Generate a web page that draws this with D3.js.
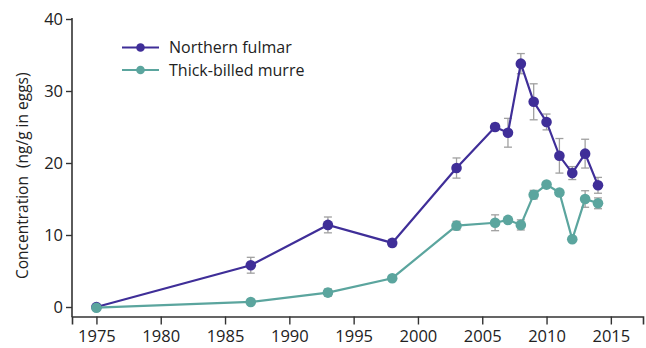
<!DOCTYPE html>
<html>
<head>
<meta charset="utf-8">
<script src="https://cdn.jsdelivr.net/npm/d3@7"></script>
<style>
  html, body { margin: 0; padding: 0; background: #fff; }
  svg { display: block; font-family: "Open Sans", "Noto Sans", sans-serif; }
</style>
</head>
<body>
<svg id="chart" width="646" height="348"></svg>
<script>
// Contaminant concentration in seabird eggs, by year
const years = [1975, 1987, 1993, 1998, 2003, 2006, 2007, 2008, 2009, 2010, 2011, 2012, 2013, 2014];
const fulmarValues = [0, 5.8, 11.4, 8.9, 19.3, 25.0, 24.2, 33.8, 28.5, 25.7, 21.0, 18.6, 21.3, 16.9];
const fulmarErrors = [0, 1.1, 1.1, 0.5, 1.4, 0.5, 2.0, 1.4, 2.5, 1.1, 2.4, 0.9, 2.0, 1.1];
const murreValues = [-0.1, 0.7, 2.0, 4.0, 11.3, 11.7, 12.1, 11.4, 15.6, 17.0, 15.9, 9.4, 15.0, 14.4];
const murreErrors = [0, 0.2, 0.5, 0.3, 0.6, 1.1, 0.3, 0.7, 0.6, 0.3, 0.3, 0.3, 1.15, 0.75];
const xTicks = [1975, 1980, 1985, 1990, 1995, 2000, 2005, 2010, 2015];
const yTicks = [0, 10, 20, 30, 40];

const seriesNames = ["Northern fulmar", "Thick-billed murre"];
const seriesColors = ["#3f2e98", "#5ba59e"];

const fontStack = '"Open Sans", "Noto Sans", sans-serif';

const svg = d3.select("#chart");

const x = d3.scaleLinear().domain([1973.1, 2017.5]).range([72, 643]);
const y = d3.scaleLinear().domain([0, 40]).range([307, 19]);
const axisY = 316.5;

const axisColor = "#333";

// x axis, ticks pointing down
const xAxis = svg.append("g")
  .attr("transform", `translate(0,${axisY})`)
  .call(d3.axisBottom(x).tickValues(xTicks).tickFormat(d3.format("d")).tickSize(8).tickPadding(6))
  .attr("font-family", fontStack).attr("font-size", 16.5);
xAxis.select(".domain").attr("stroke", axisColor).attr("stroke-width", 1.6);
xAxis.selectAll(".tick line").attr("stroke", axisColor).attr("stroke-width", 1.4);
xAxis.selectAll(".tick text").attr("fill", "#222");

// y axis with outward ticks, spine running down to the x axis
const yAxis = svg.append("g")
  .attr("transform", `translate(72,0)`)
  .call(d3.axisLeft(y).tickValues(yTicks).tickSize(6).tickPadding(3))
  .attr("font-family", fontStack).attr("font-size", 16.5);
yAxis.select(".domain").remove();
yAxis.selectAll(".tick line").attr("stroke", axisColor).attr("stroke-width", 1.4);
yAxis.selectAll(".tick text").attr("fill", "#222");
svg.append("line")
  .attr("x1", 72).attr("x2", 72)
  .attr("y1", y(40) - 1).attr("y2", axisY + 0.8)
  .attr("stroke", axisColor).attr("stroke-width", 1.6);

// y axis title
svg.append("text")
  .attr("transform", `translate(28,${(y(40) + axisY) / 2 + 8}) rotate(-90)`)
  .attr("text-anchor", "middle")
  .attr("fill", "#222")
  .style("font-size", "15.5px")
  .attr("xml:space", "preserve")
  .text("Concentration  (ng/g in eggs)");

const series = [
  { name: seriesNames[0], color: seriesColors[0], values: fulmarValues, errors: fulmarErrors },
  { name: seriesNames[1], color: seriesColors[1], values: murreValues, errors: murreErrors }
];

const line = d3.line().x(d => x(d.year)).y(d => y(d.value));

series.forEach(s => {
  const pts = years.map((yr, i) => ({ year: yr, value: s.values[i], err: s.errors[i] }));
  const g = svg.append("g");

  const eb = g.append("g").attr("stroke", "#a0a0a0").attr("stroke-width", 1.3).attr("fill", "none");
  pts.filter(d => d.err > 0).forEach(d => {
    const cx = x(d.year);
    eb.append("line").attr("x1", cx).attr("x2", cx).attr("y1", y(d.value - d.err)).attr("y2", y(d.value + d.err));
    eb.append("line").attr("x1", cx - 4).attr("x2", cx + 4).attr("y1", y(d.value + d.err)).attr("y2", y(d.value + d.err));
    eb.append("line").attr("x1", cx - 4).attr("x2", cx + 4).attr("y1", y(d.value - d.err)).attr("y2", y(d.value - d.err));
  });

  g.append("path").datum(pts)
    .attr("d", line)
    .attr("fill", "none")
    .attr("stroke", s.color)
    .attr("stroke-width", 2.2);

  g.selectAll("circle").data(pts).join("circle")
    .attr("cx", d => x(d.year))
    .attr("cy", d => y(d.value))
    .attr("r", 5.3)
    .attr("fill", s.color);
});

// legend
const legend = svg.append("g");
series.forEach((s, i) => {
  const ly = 47.5 + i * 22.5;
  legend.append("line").attr("x1", 122).attr("x2", 159).attr("y1", ly).attr("y2", ly)
    .attr("stroke", s.color).attr("stroke-width", 2);
  legend.append("circle").attr("cx", 140.5).attr("cy", ly).attr("r", 4.3).attr("fill", s.color);
  legend.append("text").attr("x", 169).attr("y", ly).attr("dy", "0.35em")
    .attr("fill", "#222").style("font-size", "16px").text(s.name);
});
</script>
</body>
</html>
